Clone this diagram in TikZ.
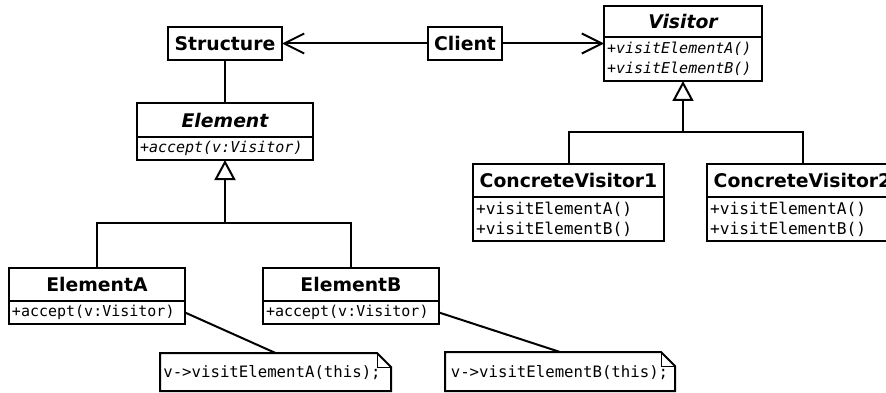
\documentclass[tikz,border=0pt]{standalone}
\usepackage{fontspec}
\setmainfont{DejaVu Sans}
\setmonofont{DejaVu Sans Mono}
\usetikzlibrary{arrows.meta}
\tikzset{
  titlebox/.style={draw, line width=2pt, inner sep=0pt, outer sep=0pt,
    font=\bfseries\fontsize{18.8}{22}\selectfont},
  opsbox/.style={draw, line width=2pt, inner xsep=3pt, inner ysep=0pt, outer sep=0pt,
    align=left, anchor=north},
  opsfont/.style={font=\ttfamily\fontsize{15}{20}\selectfont},
  opsfontbig/.style={font=\ttfamily\fontsize{16.2}{20}\selectfont},
  notetext/.style={inner sep=0pt, outer sep=0pt, text height=18pt, text depth=7pt,
    font=\ttfamily\fontsize{15.7}{20}\selectfont},
  notebox/.style={line width=2pt, line join=miter},
  foldline/.style={line width=1pt},
  link/.style={line width=2pt},
  navarrow/.style={line width=2pt, -{Straight Barb[length=20pt,width=20pt,line width=2pt]}},
  inherit/.style={line width=2pt, -{Triangle[open,length=20pt,width=21pt,line width=2pt]}},
}
\begin{document}
\begin{tikzpicture}[x=1pt,y=-1pt]
\useasboundingbox (0,0) rectangle (886,393);
\clip (0,0) rectangle (886,393);

% Structure and Client
\node[titlebox, minimum width=114pt, minimum height=33pt] (structure) at (225,43.5) {Structure};
\node[titlebox, minimum width=74pt, minimum height=33pt] (client) at (465,43.5) {Client};

% Visitor
\node[titlebox, minimum width=158pt, minimum height=31pt, font=\bfseries\itshape\fontsize{18.8}{22}\selectfont] (visitor) at (683,21.5) {Visitor};
\node[opsbox, minimum height=44pt, text width=152pt, font=\ttfamily\itshape\fontsize{15}{20}\selectfont] (visops) at (visitor.south) {+visitElementA()\\+visitElementB()};

% Element
\node[titlebox, minimum width=176pt, minimum height=34pt, font=\bfseries\itshape\fontsize{18.8}{22}\selectfont] (elem) at (225,120) {Element};
\node[opsbox, minimum height=23pt, text width=170pt, font=\ttfamily\itshape\fontsize{15}{20}\selectfont] (elemops) at (elem.south) {+accept(v:Visitor)};

% ElementA, ElementB
\node[titlebox, minimum width=176pt, minimum height=33pt] (elA) at (97,284.5) {ElementA};
\node[opsbox, opsfont, minimum height=23pt, text width=170pt] (elAops) at (elA.south) {+accept(v:Visitor)};
\node[titlebox, minimum width=176pt, minimum height=33pt] (elB) at (351,284.5) {ElementB};
\node[opsbox, opsfont, minimum height=23pt, text width=170pt] (elBops) at (elB.south) {+accept(v:Visitor)};

% Concrete visitors
\node[titlebox, minimum width=191pt, minimum height=33pt] (cv1) at (568.5,180.5) {ConcreteVisitor1};
\node[opsbox, opsfontbig, minimum height=44pt, text width=185pt] (cv1ops) at (cv1.south) {+visitElementA()\\+visitElementB()};
\node[titlebox, minimum width=191pt, minimum height=33pt] (cv2) at (802.5,180.5) {ConcreteVisitor2};
\node[opsbox, opsfontbig, minimum height=44pt, text width=185pt] (cv2ops) at (cv2.south) {+visitElementA()\\+visitElementB()};

% Notes
\node[notetext, minimum width=231pt, minimum height=38pt] (noteA) at (275.5,372) {\hspace*{-7pt}v->visitElementA(this);};
\node[notetext, minimum width=230pt, minimum height=39pt] (noteB) at (560,371.5) {\hspace*{-1pt}v->visitElementB(this);};
\foreach \n in {noteA,noteB}{
  \draw[notebox] (\n.north west) -- ([xshift=-14pt]\n.north east) -- ([yshift=-14pt]\n.north east)
    -- (\n.south east) -- (\n.south west) -- cycle;
  \draw[foldline] ([xshift=-14pt]\n.north east) |- ([yshift=-14pt]\n.north east);
}

% Connectors
\draw[navarrow] (client.west) -- (structure.east);
\draw[navarrow] (client.east) -- (visops.west |- client.east);
\draw[link] (structure.south) -- (elem.north);

\coordinate (j1) at (225,223);
\draw[inherit] (j1) -- (elemops.south);
\draw[link] (elA.north) |- (j1) -| (elB.north);

\coordinate (j2) at (683,132);
\draw[inherit] (j2) -- (visops.south);
\draw[link] (cv1.north) |- (j2) -| (cv2.north);

\draw[link] (elAops.east) -- (noteA.north);
\draw[link] (elBops.east) -- (noteB.north);
\end{tikzpicture}
\end{document}
